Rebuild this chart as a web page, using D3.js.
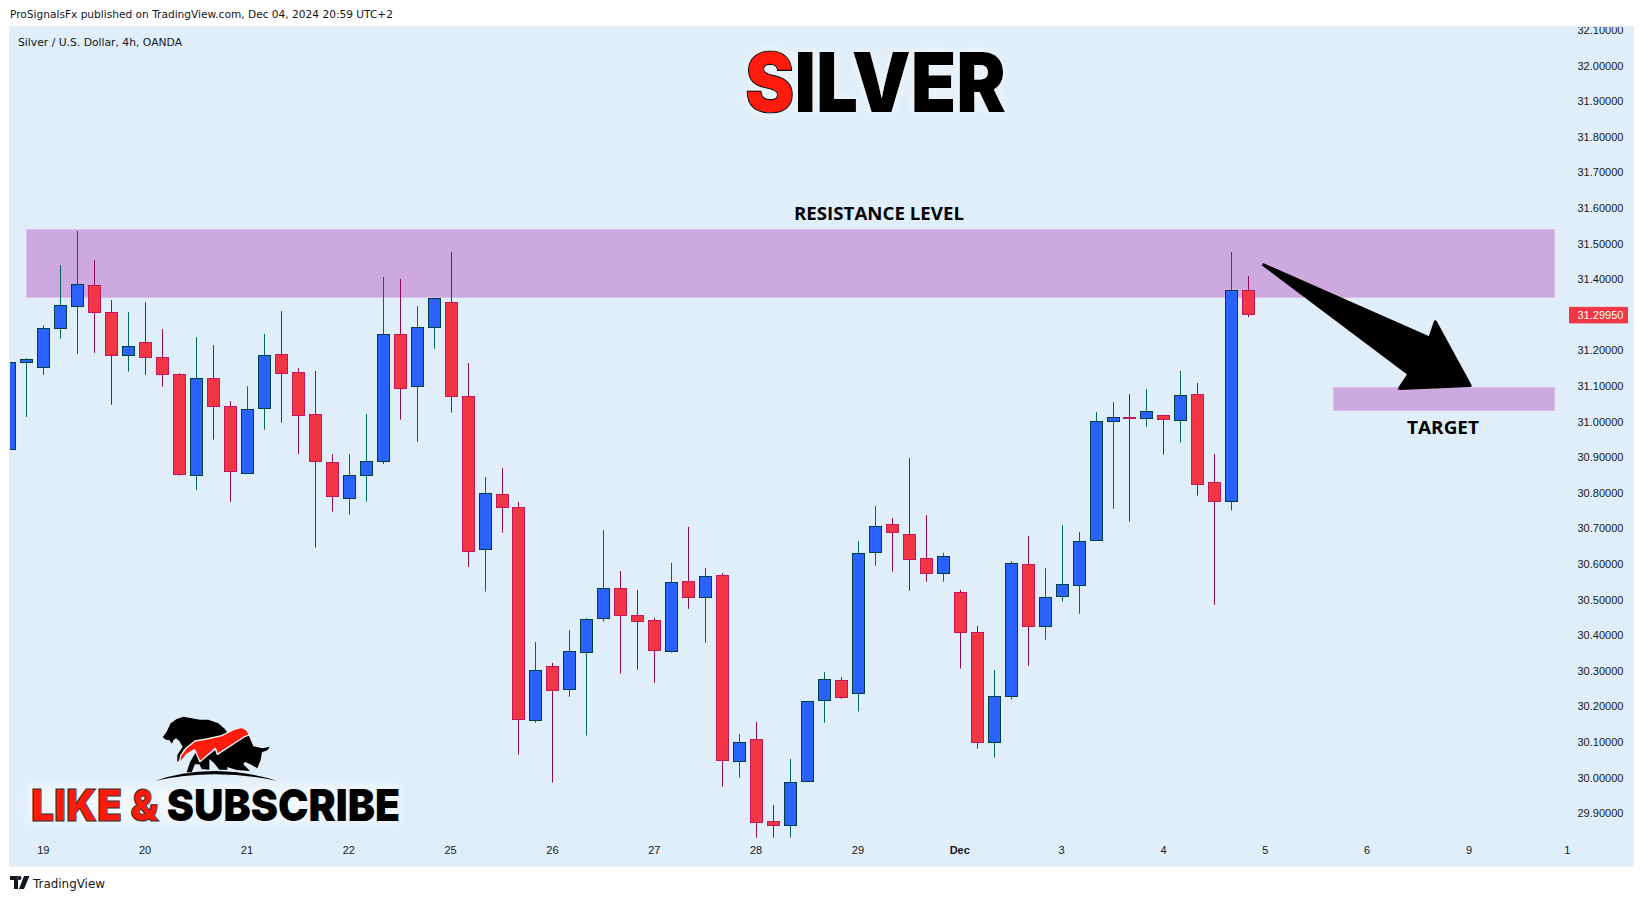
<!DOCTYPE html>
<html>
<head>
<meta charset="utf-8">
<title>Silver / U.S. Dollar, 4h</title>
<script src="https://cdn.jsdelivr.net/npm/d3@7/dist/d3.min.js"></script>
<style>
html,body{margin:0;padding:0;background:#fff;overflow:hidden}
svg{display:block}
</style>
</head>
<body>
<svg id="chart" width="1643" height="901"></svg>
<script>
const opens = [30.922,31.165,31.152,31.262,31.323,31.382,31.306,31.186,31.222,31.180,
  31.132,30.849,31.121,31.042,30.854,31.037,31.188,31.138,31.020,30.885,
  30.784,30.849,30.888,31.245,31.099,31.264,31.335,31.071,30.641,30.795,
  30.759,30.161,30.312,30.248,30.352,30.447,30.531,30.456,30.441,30.354,
  30.551,30.506,30.568,30.045,30.107,29.877,29.866,29.989,30.217,30.273,
  30.236,30.633,30.711,30.683,30.616,30.574,30.520,30.408,30.099,30.228,
  30.599,30.425,30.509,30.540,30.666,31.000,31.012,31.009,31.017,31.003,
  31.076,30.829,30.776,31.368];
const highs = [31.166,31.178,31.270,31.439,31.535,31.453,31.341,31.307,31.335,31.260,
  31.136,31.237,31.215,31.057,31.099,31.246,31.310,31.150,31.142,30.908,
  30.908,31.021,31.406,31.400,31.324,31.346,31.476,31.164,30.844,30.869,
  30.774,30.381,30.322,30.414,30.448,30.695,30.580,30.527,30.448,30.603,
  30.704,30.589,30.574,30.122,30.156,29.923,30.052,30.214,30.296,30.282,
  30.664,30.763,30.729,30.897,30.737,30.631,30.527,30.426,30.302,30.608,
  30.678,30.588,30.709,30.690,31.027,31.055,31.077,31.091,31.017,31.142,
  31.108,30.909,31.476,31.409];
const lows = [30.922,31.013,31.131,31.233,31.190,31.193,31.047,31.140,31.131,31.098,
  30.848,30.808,30.949,30.774,30.854,30.977,30.997,30.909,30.646,30.747,
  30.738,30.775,30.881,31.005,30.943,31.204,31.025,30.591,30.522,30.688,
  30.064,30.154,29.986,30.227,30.118,30.438,30.292,30.303,30.266,30.351,
  30.474,30.379,29.974,30.000,29.831,29.831,29.831,29.989,30.154,30.221,
  30.185,30.595,30.578,30.525,30.550,30.550,30.306,30.081,30.056,30.219,
  30.314,30.387,30.494,30.460,30.666,30.755,30.719,30.985,30.907,30.941,
  30.792,30.485,30.750,31.293];
const closes = [31.166,31.174,31.262,31.326,31.385,31.306,31.186,31.211,31.180,31.132,
  30.850,31.121,31.042,30.860,31.034,31.186,31.135,31.017,30.888,30.790,
  30.849,30.888,31.245,31.093,31.264,31.346,31.071,30.637,30.799,30.759,
  30.163,30.301,30.245,30.354,30.444,30.531,30.455,30.439,30.357,30.548,
  30.506,30.565,30.048,30.099,29.874,29.866,29.986,30.214,30.276,30.225,
  30.630,30.706,30.689,30.613,30.574,30.621,30.408,30.099,30.228,30.602,
  30.425,30.506,30.543,30.663,31.000,31.012,31.011,31.029,31.006,31.074,
  30.824,30.776,31.368,31.2995];

const priceTicks = [32.1,32.0,31.9,31.8,31.7,31.6,31.5,31.4,31.3,31.2,31.1,31.0,30.9,30.8,30.7,30.6,30.5,30.4,30.3,30.2,30.1,30.0,29.9];
const dateTickIndex = [2,8,14,20,26,32,38,44,50,56,62,68,74,80,86,91.8];
const dateTickLabels = ["19","20","21","22","25","26","27","28","29","Dec","3","4","5","6","9","1"];

const resistanceZone = {from:1, to:91, top:31.540, bottom:31.349};
const targetZone = {from:78, to:91, top:31.096, bottom:31.031};
const arrowIndex = [73.87,83.66,83.99,86.04,81.88,82.44];
const arrowPrice = [31.44,31.234,31.28,31.101,31.093,31.133];
const lastPrice = 31.2995;

const frame = {left:10, top:27, right:1633, bottom:866};
const x = d3.scaleLinear().domain([1,73]).range([26.8,1248.8]);
const y = d3.scaleLinear().domain([31.5,29.9]).range([243.5,813.1]);
const snap = v => Math.floor(v)+0.5;

const svg = d3.select("#chart");
const defs = svg.append("defs");
defs.append("clipPath").attr("id","plot").append("rect")
  .attr("x",frame.left).attr("y",frame.top)
  .attr("width",frame.right-frame.left).attr("height",frame.bottom-frame.top);
const glow = defs.append("filter").attr("id","glow").attr("x","-20%").attr("y","-40%").attr("width","140%").attr("height","180%");
glow.append("feGaussianBlur").attr("stdDeviation",7);
const halo = defs.append("filter").attr("id","halo").attr("x","-15%").attr("y","-40%").attr("width","130%").attr("height","180%");
halo.append("feGaussianBlur").attr("in","SourceAlpha").attr("stdDeviation",6).attr("result","b");
halo.append("feFlood").attr("flood-color","#fff").attr("flood-opacity",0.6).attr("result","f");
halo.append("feComposite").attr("in","f").attr("in2","b").attr("operator","in").attr("result","h");
const hm = halo.append("feMerge");
hm.append("feMergeNode").attr("in","h");
hm.append("feMergeNode").attr("in","SourceGraphic");
const soft = defs.append("filter").attr("id","soft").attr("x","-10%").attr("y","-10%").attr("width","120%").attr("height","120%");
soft.append("feGaussianBlur").attr("stdDeviation",0.35);

svg.append("rect").attr("x",9.5).attr("y",26.5)
  .attr("width",frame.right-frame.left+1).attr("height",frame.bottom-frame.top+1)
  .attr("fill","#e0eef9").attr("stroke","#e9edf1");

// header / footer
svg.append("text").attr("x",10).attr("y",18)
  .attr("font-family","DejaVu Sans").attr("font-size",11).attr("fill","#131722")
  .attr("textLength",383).attr("lengthAdjust","spacingAndGlyphs")
  .text("ProSignalsFx published on TradingView.com, Dec 04, 2024 20:59 UTC+2");
svg.append("text").attr("x",18).attr("y",45.5)
  .attr("font-family","DejaVu Sans").attr("font-size",11).attr("fill","#131722")
  .attr("textLength",164).attr("lengthAdjust","spacingAndGlyphs")
  .text("Silver / U.S. Dollar, 4h, OANDA");

const plot = svg.append("g").attr("clip-path","url(#plot)");

// zones
[resistanceZone,targetZone].forEach(z=>{
  plot.append("rect")
    .attr("x",snap(x(z.from))).attr("y",snap(y(z.top)))
    .attr("width",Math.round(x(z.to)-x(z.from))).attr("height",Math.round(y(z.bottom)-y(z.top)))
    .attr("fill","#cda9df").attr("stroke","#d9bfea");
});

// candles
const candles = d3.range(opens.length).map(i=>({i,o:opens[i],h:highs[i],l:lows[i],c:closes[i]}));
const g = plot.selectAll("g.candle").data(candles).join("g").attr("class","candle");
g.append("line")
  .attr("x1",d=>snap(x(d.i))).attr("x2",d=>snap(x(d.i)))
  .attr("y1",d=>y(d.h)).attr("y2",d=>y(d.l))
  .attr("stroke",d=>d.c>=d.o?"#00695c":"#8f0a55").attr("stroke-width",1);
g.append("rect")
  .attr("x",d=>snap(x(d.i))-6).attr("width",12)
  .attr("y",d=>snap(y(Math.max(d.o,d.c))))
  .attr("height",d=>Math.max(1,Math.round(y(Math.min(d.o,d.c))-y(Math.max(d.o,d.c)))))
  .attr("fill",d=>d.c>=d.o?"#2962ff":"#f23645")
  .attr("stroke",d=>d.c>=d.o?"#004040":"#c2185b").attr("stroke-width",1);

// arrow
plot.append("path")
  .attr("d",d3.line().x(d=>x(d[0])).y(d=>y(d[1])).curve(d3.curveLinearClosed)(arrowIndex.map((v,i)=>[v,arrowPrice[i]])))
  .attr("fill","#000").attr("stroke","#000").attr("stroke-width",3).attr("stroke-linejoin","round");

// annotation text
plot.append("text").attr("x",879).attr("y",219.5).attr("text-anchor","middle")
  .attr("font-family","Open Sans").attr("font-weight",700).attr("font-size",18).attr("fill","#000")
  .attr("textLength",170).attr("lengthAdjust","spacingAndGlyphs").text("RESISTANCE LEVEL");
plot.append("text").attr("x",1443).attr("y",434).attr("text-anchor","middle")
  .attr("font-family","Open Sans").attr("font-weight",700).attr("font-size",18).attr("fill","#000")
  .attr("textLength",72).attr("lengthAdjust","spacingAndGlyphs").text("TARGET");

// SILVER title (white halo comes from a filter on the one text)
const title = plot.append("text").attr("x",875.5).attr("y",111.5).attr("text-anchor","middle")
  .attr("font-family","Inter").attr("font-weight",900).attr("font-size",82)
  .attr("textLength",261).attr("lengthAdjust","spacingAndGlyphs").attr("filter","url(#halo)");
title.append("tspan").text("S").attr("fill","#ff1a0a").attr("stroke","#111").attr("stroke-width",1.2);
title.append("tspan").text("ILVER").attr("fill","#000");

// logo block
plot.append("rect").attr("x",28).attr("y",785).attr("width",372).attr("height",38)
  .attr("fill","#fff").attr("opacity",0.55).attr("filter","url(#glow)");
const logo = plot.append("g").attr("transform","translate(140,705) scale(0.3333)").attr("filter","url(#soft)");
logo.append("path").attr("fill","#000").attr("d","M68 97 L80 80 L92 55 L110 42 L130 35 L155 40 L180 44 L205 44 L235 55 L255 72 L264 86 L215 100 L170 108 L145 122 L130 135 L122 160 L112 172 L112 150 L128 125 L118 108 L108 100 L100 106 L96 116 L88 106 L78 104 Z");
logo.append("path").attr("fill","#000").attr("d","M150 172 L168 140 L178 172 L226 135 L232 150 L325 88 L340 124 L368 130 L390 125 L382 136 L366 142 L362 165 L352 190 L335 180 L315 170 L310 178 L330 198 L290 195 L262 186 L262 194 L238 194 L222 174 L208 162 L208 194 L185 192 L178 178 L165 178 L155 202 L140 202 Z");
logo.append("path").attr("fill","#ff1a0a").attr("stroke","#eef4fa").attr("stroke-width",4).attr("stroke-linejoin","round")
  .attr("d","M118 176 L122 152 L140 128 L165 108 L200 102 L245 92 L285 72 L305 67 L320 75 L328 90 L312 96 L232 148 L226 130 L180 170 L164 134 L140 148 Z");
logo.append("path").attr("fill","#000").attr("d","M45 228 Q120 200 225 198 Q330 200 412 228 Q320 208 225 208 Q130 208 45 228 Z");

const cta = plot.append("text").attr("x",31).attr("y",820.5)
  .attr("font-family","Inter").attr("font-weight",900).attr("font-size",44.5)
  .attr("textLength",369).attr("lengthAdjust","spacingAndGlyphs");
cta.append("tspan").text("LIKE & ").attr("fill","#ff1a0a").attr("stroke","#333").attr("stroke-width",1);
cta.append("tspan").text("SUBSCRIBE").attr("fill","#000");

// axes
const yAxis = d3.axisRight(y).tickValues(priceTicks).tickFormat(d=>d.toFixed(5)).tickSize(0).tickPadding(0);
const yG = plot.append("g").attr("transform","translate(1577.5,0)").call(yAxis);
yG.select(".domain").remove();
yG.selectAll("text").attr("font-family","Liberation Sans").attr("font-size",11).attr("fill","#131722");

const xAxis = d3.axisBottom(x).tickValues(dateTickIndex)
  .tickFormat(d=>dateTickLabels[dateTickIndex.indexOf(d)]).tickSize(0).tickPadding(0);
const xG = plot.append("g").attr("transform","translate(-1,846)").call(xAxis);
xG.select(".domain").remove();
xG.selectAll("text").attr("font-family","Liberation Sans").attr("font-size",11).attr("fill","#131722");
xG.selectAll("text").filter(d=>dateTickLabels[dateTickIndex.indexOf(d)]==="Dec").attr("font-weight",700);

// last price tag
plot.append("rect").attr("x",1569).attr("y",y(lastPrice)-8).attr("width",59).attr("height",16.5).attr("fill","#f23645");
plot.append("text").attr("x",1577.5).attr("y",y(lastPrice)+4).attr("font-family","Liberation Sans").attr("font-size",11).attr("fill","#fff").text(lastPrice.toFixed(5));

// TradingView mark
svg.append("path").attr("fill","#131722").attr("d","M10 876 H18 V889 H14 V880 H10 Z M19.5 880 A2 2 0 1 0 19.5 876 A2 2 0 1 0 19.5 880 Z M24 876 H29.5 L24 889 H19 Z");
svg.append("text").attr("x",33).attr("y",888).attr("font-family","DejaVu Sans").attr("font-size",12).attr("fill","#131722")
  .attr("textLength",72).attr("lengthAdjust","spacingAndGlyphs").text("TradingView");
</script>
</body>
</html>
